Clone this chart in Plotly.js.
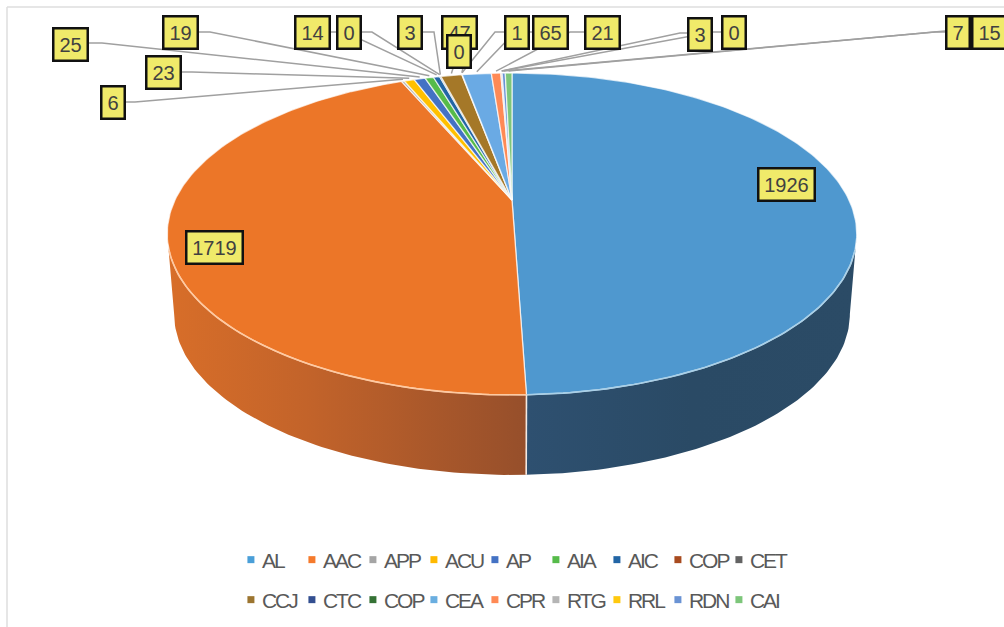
<!DOCTYPE html>
<html>
<head>
<meta charset="utf-8">
<script src="https://cdn.plot.ly/plotly-3.0.1.min.js"></script>
<style>
html,body{margin:0;padding:0;background:#fff;overflow:hidden}
#chart{width:1004px;height:627px}
.legendtext,.legend2text{letter-spacing:-2px;transform:translateX(-9px)}
.scrollbox{clip-path:none !important}
.scatterlayer{filter:blur(0.5px)}
</style>
</head>
<body>
<div id="chart"></div>
<script>
// ---- data ----
var categories = ['AL','AAC','APP','ACU','AP','AIA','AIC','COP','CET','CCJ','CTC','COP','CEA','CPR','RTG','RRL','RDN','CAI'];
var values     = [1926,1719,6,23,25,19,14,0,3,47,0,1,65,21,3,0,7,15];

// ---- styles ----
var sliceColors  = ['#4f98cf','#ec7628','#a5a5a5','#ffc000','#4472c4','#56bb4a','#2265a5','#a84b1f','#636363','#a57828','#334f90','#357235','#6aaae4','#ff8a55','#b5b5b5','#ffc90e','#6a93d4','#7dc67a'];
var legendColors = ['#4a9fd8','#f57a2c','#a5a5a5','#ffb900','#4472c4','#56bb4a','#2265a5','#a84b1f','#636363','#9c7530','#334f90','#357235','#6aaee0','#ff8a55','#b5b5b5','#ffc90e','#6a93d4','#7dc67a'];

// ---- label box layout (page pixels), one per slice ----
var boxCx = [786,214,112.5,163,70,180.5,312,348.5,409.5,459,458.5,516.5,550,602,700,733.5,957.5,989];
var boxCy = [184.5,247.5,102,72.5,44.5,32,32,32,32,32,51.5,32,32,32,34,32,32,32];
// leader routes: [startX,startY, elbowX,elbowY] for the small slices; null = label sits on the slice
var leaderRoute = [null,null,
  [125,102,135,102],[181,72,192,72],[88,43,102,43],[199,32,210,32],[330,32,345,32],[361,32,372,32],
  [422,32,434,32],[459,49,459,49],[465,60,465,60],[504,32,495,32],[532,32,515,32],[584,32,570,32],
  [687,33,680,33],[721,32,713,32],[945,32,935,32],[971,32,945,31]];

// ---- projection of the tilted disc into page pixels ----
var apexX = 512, apexY = 200, persp = 0.211, radX = 337, radY = 153.8, depth = 80, baseScale = 0.98;
function project(frac, lower){
  var t = frac*2*Math.PI, s = Math.sin(t), c = Math.cos(t), w = 1 + persp*c;
  var px = radX*s/w, py = radY*c/w;
  return lower ? [apexX + baseScale*px, apexY - py + depth] : [apexX + px, apexY - py];
}
function arc(f0, f1, lower){
  var n = Math.max(2, Math.ceil(Math.abs(f1-f0)*360)), xs = [], ys = [];
  for(var i=0;i<=n;i++){ var p = project(f0+(f1-f0)*i/n, lower); xs.push(p[0]); ys.push(p[1]); }
  return {x:xs, y:ys};
}

var total = values.reduce(function(a,b){return a+b;},0);
var starts = [], cum = 0;
values.forEach(function(v){ starts.push(cum/total); cum += v; });
var ends = starts.map(function(s,i){ return s + values[i]/total; });

var traces = [];
var noHover = {hoverinfo:'skip', showlegend:false};

// side walls of the two big slices
var silhouette = Math.acos(-persp)/(2*Math.PI);
function wall(f0, f1, scale){
  var a = arc(f0,f1,false), b = arc(f1,f0,true);
  traces.push(Object.assign({x:a.x.concat(b.x), y:a.y.concat(b.y), mode:'lines', line:{width:0},
    fill:'toself', fillgradient:{type:'horizontal', colorscale:scale}}, noHover));
}
wall(silhouette, ends[0], [[0,'#2e5070'],[0.5,'#2a4a65'],[1,'#2b4b66']]);
wall(ends[0], 1-silhouette, [[0,'#d86e29'],[0.4,'#c2632a'],[1,'#964f2b']]);
// pale seam between the two walls
var seamTop = project(ends[0],false), seamBase = project(ends[0],true);
traces.push(Object.assign({x:[seamTop[0],seamBase[0]], y:[seamTop[1],seamBase[1]], mode:'lines',
  line:{color:'#f4e9e2',width:1.6}}, noHover));

// top face wedges
categories.forEach(function(name,i){
  if(values[i] === 0) return;
  var a = arc(starts[i], ends[i], false);
  traces.push({x:[apexX].concat(a.x,[apexX]), y:[apexY].concat(a.y,[apexY]), mode:'lines', fill:'toself',
    fillcolor:sliceColors[i], line:{color:'rgba(255,255,255,0.7)',width:1.3}, name:name, hoverinfo:'name', showlegend:false});
});

// bright rim on the front edge
var rimA = arc(0.30, ends[0], false), rimB = arc(ends[0], 0.70, false);
traces.push(Object.assign({x:rimA.x, y:rimA.y, mode:'lines', line:{color:'#a9d0e8',width:1.6}}, noHover));
traces.push(Object.assign({x:rimB.x, y:rimB.y, mode:'lines', line:{color:'#ffc9a0',width:1.6}}, noHover));

// leader lines
categories.forEach(function(name,i){
  var r = leaderRoute[i];
  if(!r) return;
  var end = project((starts[i]+ends[i])/2, false);
  traces.push(Object.assign({x:[r[0],r[2],end[0]], y:[r[1],r[3],end[1]-2], mode:'lines',
    line:{color:'#a0a0a0',width:1.5}}, noHover));
});

// legend entries, two rows of nine
categories.forEach(function(name,i){
  traces.push({x:[null], y:[null], mode:'markers', name:name,
    legend: i < 9 ? 'legend' : 'legend2', showlegend:true, hoverinfo:'skip',
    marker:{symbol:'square', size:7, color:legendColors[i]}});
});

var annotations = categories.map(function(name,i){
  var wide = String(values[i]).length;
  return {xref:'x', yref:'y', x:boxCx[i], y:boxCy[i], text:String(values[i]), showarrow:false,
    width: wide===1 ? 21 : wide===2 ? 32 : 54, height: 30, align:'center', valign:'middle',
    bgcolor:'#f0ea6a', bordercolor:'#111111', borderwidth:2.5, borderpad:0,
    font:{family:'Liberation Sans, Arial, sans-serif', size:20, color:'#404040'}};
});

function legendCfg(top){
  return {orientation:'h', x:0.23, xanchor:'left', y:top, yanchor:'middle', entrywidth:16, entrywidthmode:'pixels',
    itemwidth:30, itemclick:false, itemdoubleclick:false, traceorder:'normal', bgcolor:'rgba(0,0,0,0)',
    font:{family:'Liberation Sans, Arial, sans-serif', size:21, color:'#595959'}};
}

var layout = {
  width:1004, height:627, margin:{l:0,r:0,t:0,b:0}, paper_bgcolor:'#fff', plot_bgcolor:'#fff', showlegend:true,
  xaxis:{range:[0,1004], visible:false, fixedrange:true},
  yaxis:{range:[627,0], visible:false, fixedrange:true},
  legend:legendCfg(1-560/627), legend2:legendCfg(1-600/627),
  annotations:annotations,
  shapes:[
    {type:'line', xref:'x', yref:'y', x0:7, x1:1004, y0:7, y1:7, line:{color:'#dedede',width:1.5}},
    {type:'line', xref:'x', yref:'y', x0:7, x1:7, y0:7, y1:627, line:{color:'#dedede',width:1.5}}
  ]
};
Plotly.newPlot('chart', traces, layout, {displayModeBar:false, responsive:false});
</script>
</body>
</html>
